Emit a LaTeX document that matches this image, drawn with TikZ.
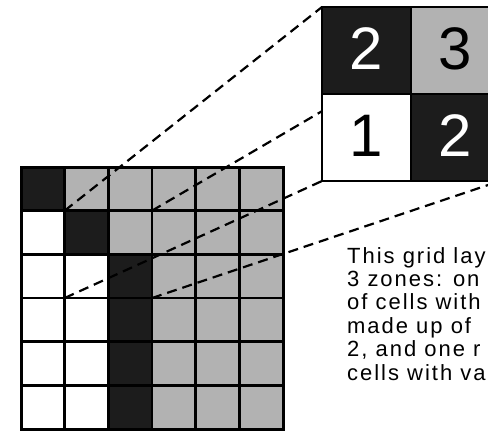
\documentclass[tikz,border=0pt]{standalone}
\usepackage{fontspec}
\setmainfont{Liberation Sans}
\newfontfamily\txtfont[LetterSpace=9]{Liberation Sans}
\definecolor{cblk}{HTML}{1C1C1C}
\definecolor{cgry}{HTML}{B2B2B2}
\pgfdeclarelayer{bg}
\pgfdeclarelayer{mid}
\pgfsetlayers{bg,mid,main}
\begin{document}
\begin{tikzpicture}[x=1pt,y=-1pt,
  cell/.style={draw=black,line width=2.6pt,minimum size=43.67pt,inner sep=0pt,outer sep=0pt,anchor=north west},
  bigcell/.style={draw=black,line width=2.6pt,minimum width=89pt,minimum height=87pt,inner sep=0pt,outer sep=0pt,anchor=north west,text height=43pt,text depth=6pt,font=\fontsize{60}{60}\selectfont},
  link/.style={dash pattern=on 10pt off 6pt,line width=2.2pt,black},
  note/.style={anchor=north west,align=left,inner sep=0pt,font=\txtfont\fontsize{22}{23.4}\selectfont}]
\useasboundingbox (0,0) rectangle (488,431);
\clip (0,0) rectangle (488,431);
\begin{pgfonlayer}{bg}
\fill[white] (0,0) rectangle (488,431);
\foreach \r in {0,...,5}{
  \foreach \c in {0,...,5}{
    \pgfmathtruncatemacro\k{min(\r,2)}
    \ifnum\c<\k \def\fc{white}\else\ifnum\c=\k \def\fc{cblk}\else\def\fc{cgry}\fi\fi
    \node[cell,fill=\fc] (g\r\c) at ({21+43.67*\c},{167+43.67*\r}) {};
  }
}
\draw[line width=3pt] (g00.north west) rectangle (g55.south east);
\end{pgfonlayer}
% zoomed 2x2 block
\node[bigcell,fill=cblk,text=white] (s11) at (322,7) {2};
\node[bigcell,fill=cgry] (s12) at (411,7) {3};
\node[bigcell,fill=white] (s21) at (322,94) {1};
\node[bigcell,fill=cblk,text=white] (s22) at (411,94) {2};
\begin{pgfonlayer}{mid}
\draw[link] (g11.north west) -- (s11.north west);
\draw[link] (g12.north east) -- (s12.north east);
\draw[link] (g21.south west) -- (s21.south west);
\draw[link] (g22.south east) -- (s22.south east);
\end{pgfonlayer}
\node[note] (txt) at (347,247) {This grid lay\\3 zones: on\\of cells with\\made up of\\2, and one r\\cells with va};
\end{tikzpicture}
\end{document}
